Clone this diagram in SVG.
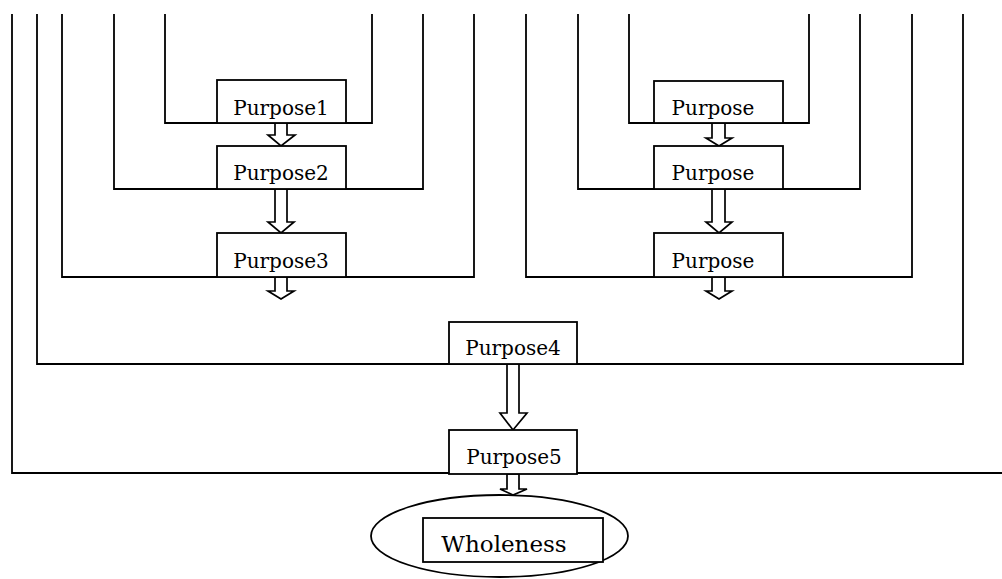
<svg xmlns="http://www.w3.org/2000/svg" width="1002" height="579" viewBox="0 0 1002 579">
<style>
.ln{fill:none;stroke:#000;stroke-width:1.8}
.bx{fill:#fff;stroke:#000;stroke-width:1.8}
.ar{fill:#fff;stroke:#000;stroke-width:1.7;stroke-linejoin:miter}
text{font-family:'DejaVu Serif','Liberation Serif',serif;fill:#000;text-anchor:middle}
.t{font-size:20px}
.tw{font-size:23px}
</style>
<g id="connectors">
<polyline class="ln" points="12,14 12,473 1002,473"/>
<polyline class="ln" points="37,14 37,364 963,364 963,14"/>
<polyline class="ln" points="62,14 62,277 474,277 474,14"/>
<polyline class="ln" points="114,14 114,189 423,189 423,14"/>
<polyline class="ln" points="165,14 165,123 372,123 372,14"/>
<polyline class="ln" points="526,14 526,277 912,277 912,14"/>
<polyline class="ln" points="578,14 578,189 860,189 860,14"/>
<polyline class="ln" points="629,14 629,123 809,123 809,14"/>
<polygon class="ar" points="275,123 287,123 287,135 295,135 281,146 268,135 275,135"/>
<polygon class="ar" points="275,189 287,189 287,222 294,222 281,233 268,222 275,222"/>
<polygon class="ar" points="275,277 287,277 287,291 294,291 281,299 268,291 275,291"/>
<polygon class="ar" points="712,123 725,123 725,138 732,138 719,146 706,138 712,138"/>
<polygon class="ar" points="712,189 725,189 725,222 732,222 719,233 706,222 712,222"/>
<polygon class="ar" points="712,277 725,277 725,291 732,291 719,299 706,291 712,291"/>
<polygon class="ar" points="507,364 519,364 519,413 527,413 513,430 500,413 507,413"/>
<polygon class="ar" points="507,474 519,474 519,489 527,489 513,495 500,489 507,489"/>
</g>
<g id="purpose1"><rect class="bx" x="217" y="80" width="129" height="43"/><text class="t" x="281" y="115">Purpose1</text></g>
<g id="purpose2"><rect class="bx" x="217" y="146" width="129" height="43"/><text class="t" x="281" y="180">Purpose2</text></g>
<g id="purpose3"><rect class="bx" x="217" y="233" width="129" height="44"/><text class="t" x="281" y="268">Purpose3</text></g>
<g id="purposeR1"><rect class="bx" x="654" y="81" width="129" height="42"/><text class="t" x="713" y="115">Purpose</text></g>
<g id="purposeR2"><rect class="bx" x="654" y="146" width="129" height="43"/><text class="t" x="713" y="180">Purpose</text></g>
<g id="purposeR3"><rect class="bx" x="654" y="233" width="129" height="44"/><text class="t" x="713" y="268">Purpose</text></g>
<g id="purpose4"><rect class="bx" x="449" y="322" width="128" height="42"/><text class="t" x="513" y="355">Purpose4</text></g>
<g id="purpose5"><rect class="bx" x="449" y="430" width="128" height="44"/><text class="t" x="514" y="464">Purpose5</text></g>
<g id="wholeness"><ellipse class="bx" cx="499.5" cy="536" rx="128.5" ry="41"/><rect class="bx" x="423" y="518" width="180" height="44"/><text class="tw" x="504" y="552">Wholeness</text></g>
</svg>
